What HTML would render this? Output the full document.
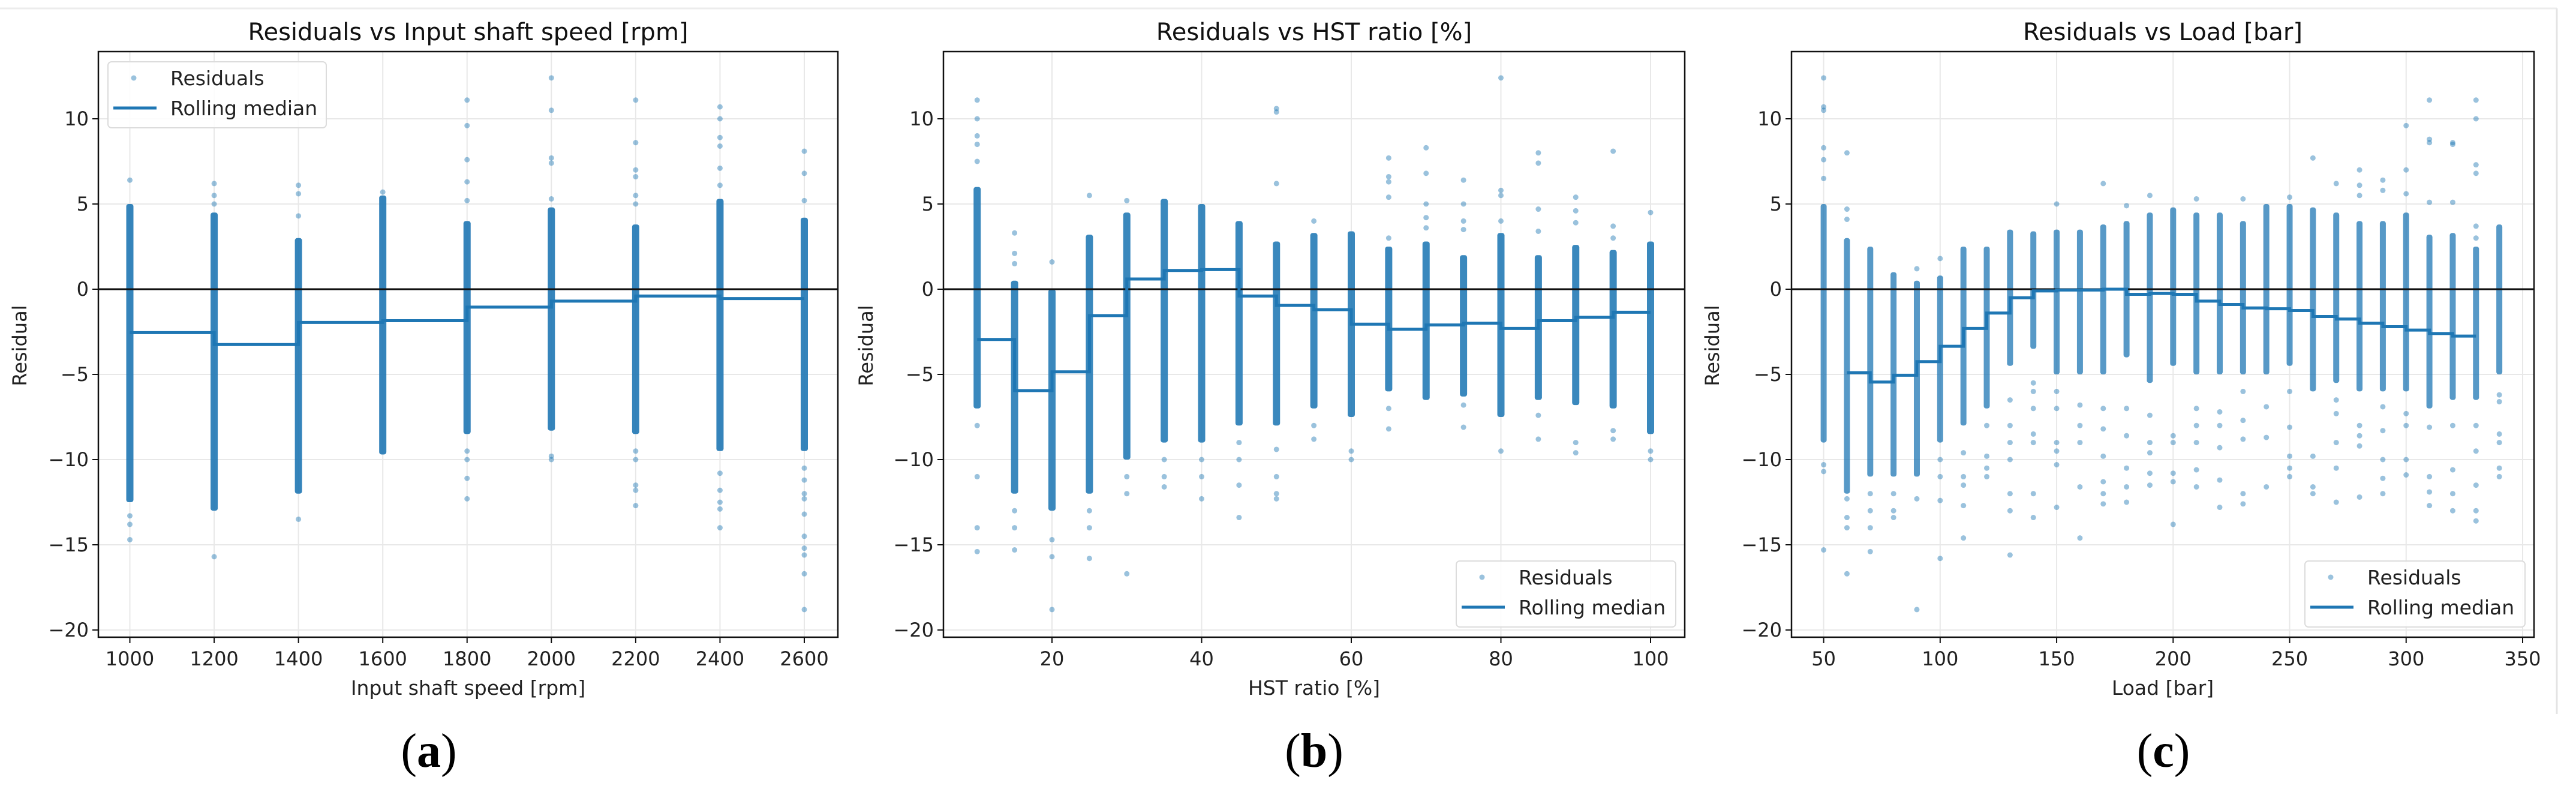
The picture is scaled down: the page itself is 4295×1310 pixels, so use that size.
<!DOCTYPE html>
<html><head><meta charset="utf-8"><style>
html,body{margin:0;padding:0;background:#fff;overflow:hidden;}
svg{display:block;font-family:"DejaVu Sans","Liberation Sans",sans-serif;}
</style></head><body>
<svg id="fig" width="4295" height="1310" viewBox="0 0 4295 1310" xmlns="http://www.w3.org/2000/svg">
<line x1="0" y1="14" x2="4263" y2="14" stroke="#ececec" stroke-width="3"/>
<line x1="4263" y1="14" x2="4263" y2="1190" stroke="#e4e4e4" stroke-width="3"/>
</svg>
<script>
// ---------- Panel (a) data ----------
const aCats = [1000,1200,1400,1600,1800,2000,2200,2400,2600];
const aLo = [-12.5,-13,-12,-9.7,-8.5,-8.3,-8.5,-9.5,-9.5];
const aHi = [5,4.5,3,5.5,4,4.8,3.8,5.3,4.2];
const aOut = [[6.4,-13.3,-13.8,-14.7],[6.2,5.5,5.0,-15.7],[6.1,5.6,4.3,-13.5],[5.7],[11.1,9.6,7.6,6.3,5.2,-9.5,-10,-11.1,-12.3],[12.4,10.5,7.7,7.4,5.3,-9.8,-10],[11.1,8.6,7.0,6.6,5.5,5.0,-9.5,-10,-11.5,-11.8,-12.7],[10.7,10.0,8.9,8.4,7.1,6.1,-10.8,-11.8,-12.5,-12.9,-14],[8.1,6.8,5.2,-10.5,-11.2,-12,-12.3,-13.2,-14.5,-15.2,-15.6,-16.7,-18.8]];
const aMed = [-2.55,-3.25,-1.95,-1.85,-1.05,-0.7,-0.4,-0.55];
const aXTicks = [1000,1200,1400,1600,1800,2000,2200,2400,2600];

// ---------- Panel (b) data ----------
const bCats = [10,15,20,25,30,35,40,45,50,55,60,65,70,75,80,85,90,95,100];
const bLo = [-7,-12,-13,-12,-10,-9,-9,-8,-8,-7,-7.5,-6,-6.5,-6.3,-7.5,-6.5,-6.8,-7,-8.5];
const bHi = [6,0.5,0,3.2,4.5,5.3,5,4,2.8,3.3,3.4,2.5,2.8,2,3.3,2,2.6,2.3,2.8];
const bOut = [[11.1,10,9,8.5,7.5,-8,-11,-14,-15.4],[3.3,2.1,1.5,-13,-14,-15.3],[1.6,-14.7,-15.7,-18.8],[5.5,-13,-14,-15.8],[5.2,-11,-12,-16.7],[-10,-11,-11.6],[-10,-11,-12.3],[-9,-10,-11.5,-13.4],[10.6,10.4,6.2,-9.4,-11,-12,-12.3],[4,-8,-8.8],[-9.5,-10],[7.7,6.6,6.3,5.4,3,-7,-8.2],[8.3,6.8,5,4.2,3.6],[6.4,5,4,3.5,-6.8,-8.1],[12.4,5.8,5.5,4,-9.5],[8,7.4,4.7,3.4,-7.4,-8.8],[5.4,4.6,3.9,-9,-9.6],[8.1,3.7,3,-8.3,-8.8],[4.5,-9.5,-10]];
const bMed = [-2.95,-5.95,-4.85,-1.55,0.6,1.1,1.15,-0.4,-0.95,-1.2,-2.05,-2.35,-2.1,-2.0,-2.3,-1.85,-1.65,-1.35];
const bXTicks = [20,40,60,80,100];

// ---------- Panel (c) data ----------
const cCats = [50,60,70,80,90,100,110,120,130,140,150,160,170,180,190,200,210,220,230,240,250,260,270,280,290,300,310,320,330,340];
const cLo = [-9,-12,-11,-11,-11,-9,-8,-7,-4.5,-3.5,-5,-5,-5,-4,-5.5,-4.5,-5,-5,-5,-5,-4.5,-6,-5.5,-6,-6,-6,-7,-6.5,-6.5,-5];
const cHi = [5,3,2.5,1,0.5,0.8,2.5,2.5,3.5,3.4,3.5,3.5,3.8,4,4.5,4.8,4.5,4.5,4,5,5,4.8,4.5,4,4,4.5,3.2,3.3,2.5,3.8];
const cOut = [[12.4,10.7,10.5,8.3,7.6,6.5,-10.3,-10.7,-15.3],[8,4.7,4.1,-12.3,-13.4,-14,-16.7],[-12,-13,-14,-15.4],[-12,-13,-13.4],[1.2,-12.3,-18.8],[1.8,-10,-11,-12.4,-15.8],[-9.6,-11,-11.5,-12.7,-14.6],[-8,-9.8,-10.5,-11],[-6.5,-8,-9,-10,-12,-13,-15.6],[-5.5,-6,-7,-8.5,-9,-12,-13.4],[5,-6,-7,-9,-9.5,-10.3,-12.8],[-6.8,-8,-9,-11.6,-14.6],[6.2,-7,-8.2,-9.8,-11.3,-12,-12.6],[4.9,-7,-8.6,-10.5,-11.6,-12.5],[5.5,-7.4,-9,-9.6,-10.8,-11.5],[-8.6,-9,-10.8,-11.3,-13.8],[5.3,-7,-8,-9,-10.6,-11.6],[-7.2,-8,-9.3,-11.2,-12.8],[5.3,-6,-7.7,-8.8,-12,-12.6],[-6.9,-8.7,-11.6],[5.4,-6,-8.1,-9.8,-10.5,-11],[7.7,-9.8,-11.6,-12],[6.2,-6.5,-7.3,-9,-10.5,-12.5],[7,6.1,5.5,-8,-8.6,-9.2,-12.2],[6.4,5.8,-6.9,-8.3,-10,-11.1,-12],[9.6,7,5.6,-7.3,-8,-10,-10.9],[11.1,8.8,8.6,5.1,-8.1,-11,-11.9,-12.7],[8.6,8.5,5.1,-8,-10.6,-12,-13],[11.1,10,7.3,6.8,3.7,3,-8,-9.5,-11.5,-13,-13.6],[-6.2,-6.6,-8.5,-9,-10.5,-11]];
const cMed = [-4.9,-5.45,-5.05,-4.25,-3.35,-2.3,-1.4,-0.5,-0.1,-0.05,-0.05,0,-0.3,-0.25,-0.3,-0.7,-0.9,-1.1,-1.15,-1.25,-1.6,-1.75,-2.0,-2.2,-2.4,-2.6,-2.75];
const cMedStart = 1; // median starts at the second category
const cXTicks = [50,100,150,200,250,300,350];

const yTicks = [10,5,0,-5,-10,-15,-20];

const NS = 'http://www.w3.org/2000/svg';
const svg = document.getElementById('fig');
const BLUE = '#1f77b4';
function mk(tag, attrs, parent){ const e=document.createElementNS(NS,tag); for(const k in attrs) e.setAttribute(k,attrs[k]); (parent||svg).appendChild(e); return e; }

function panel(cfg){
  const g = mk('g',{});
  
  
  const L=cfg.left,R=cfg.right,T=86,B=1062;
  const X = v => cfg.x0px + (v-cfg.x0)*(cfg.x1px-cfg.x0px)/(cfg.x1-cfg.x0);
  const Y = v => 482 - v*28.4;
  cfg.xTicks.forEach(t=>{ const l=mk('line',{x1:X(t),x2:X(t),y1:T,y2:B,stroke:'#e8e8e8','stroke-width':2},g);
      });
  yTicks.forEach(t=>{ const l=mk('line',{x1:L,x2:R,y1:Y(t),y2:Y(t),stroke:'#e8e8e8','stroke-width':2},g);
      });
  cfg.cats.forEach((c,i)=>{
    const r=mk('rect',{x:X(c)-cfg.bw/2,y:Y(cfg.hi[i]),width:cfg.bw,height:Y(cfg.lo[i])-Y(cfg.hi[i]),fill:BLUE,'fill-opacity':cfg.bop,rx:4},g);
    
    
    cfg.out[i].forEach(v=>{
      const p=mk('circle',{cx:X(c),cy:Y(v),r:4.5,fill:BLUE,'fill-opacity':0.45},g);
      
      
    });
  });
  const z=mk('line',{x1:L,x2:R,y1:Y(0),y2:Y(0),stroke:'#111','stroke-width':3},g);
   
  let d='';
  const s=cfg.medStart||0;
  cfg.med.forEach((m,i)=>{ const xa=X(cfg.cats[s+i]), xb=X(cfg.cats[s+i+1]);
    d += (i===0?'M':'L')+xa+','+Y(m)+' L'+xb+','+Y(m)+' '; });
  const ml=mk('path',{d:d,fill:'none',stroke:BLUE,'stroke-width':5},g);
   
  const sp=mk('rect',{x:L,y:T,width:R-L,height:B-T,fill:'none',stroke:'#111','stroke-width':2.5},g);
   
  cfg.xTicks.forEach(t=>{
    mk('line',{x1:X(t),x2:X(t),y1:B,y2:B+10,stroke:'#111','stroke-width':2},g);
    const tx=mk('text',{x:X(t),y:1109,'font-size':32,'text-anchor':'middle',fill:'#222'},g);
    tx.textContent=t;
     
  });
  yTicks.forEach(t=>{
    mk('line',{x1:L-10,x2:L,y1:Y(t),y2:Y(t),stroke:'#111','stroke-width':2},g);
    const tx=mk('text',{x:L-16,y:Y(t)+11,'font-size':32,'text-anchor':'end',fill:'#222'},g);
    tx.textContent=(t<0?'\u2212'+(-t):t);
     
  });
  const ti=mk('text',{x:(L+R)/2,y:67,'font-size':40,'text-anchor':'middle',fill:'#111'},g);
  ti.textContent=cfg.title;  
  const xl=mk('text',{x:(L+R)/2,y:1158,'font-size':33,'text-anchor':'middle',fill:'#222'},g);
  xl.textContent=cfg.xlabel;  
  const yl=mk('text',{x:0,y:0,'font-size':32,'text-anchor':'middle',fill:'#222',transform:'translate('+(cfg.ylx)+',576) rotate(-90)'},g);
  yl.textContent='Residual';  
  const lg=mk('g',{},g);
   
  mk('rect',{x:cfg.lx,y:cfg.ly,width:cfg.lw,height:110,rx:6,fill:'#fff','fill-opacity':0.85,stroke:'#dcdcdc','stroke-width':2},lg);
  const ld=mk('circle',{cx:cfg.lx+43,cy:cfg.ly+27,r:4.5,fill:BLUE,'fill-opacity':0.45},lg);
   
  const t1=mk('text',{x:cfg.lx+104,y:cfg.ly+39,'font-size':33,fill:'#222'},lg);
  t1.textContent='Residuals';  
  const ll=mk('line',{x1:cfg.lx+9,x2:cfg.lx+81,y1:cfg.ly+77,y2:cfg.ly+77,stroke:BLUE,'stroke-width':5},lg);
   
  const t2=mk('text',{x:cfg.lx+104,y:cfg.ly+89,'font-size':33,fill:'#222'},lg);
  t2.textContent='Rolling median';  
  const cap=mk('text',{x:cfg.capx,y:1278,'font-size':80,'text-anchor':'middle',fill:'#000','font-family':'"Liberation Serif",serif'},svg);
  cap.innerHTML='(<tspan font-weight="bold">'+cfg.cap+'</tspan>)';
   
}

panel({name:'panel-a-speed',left:164,right:1397,x0:1000,x1:2600,x0px:216.5,x1px:1341,cats:aCats,lo:aLo,hi:aHi,out:aOut,med:aMed,xTicks:aXTicks,bw:12,bop:0.9,
  title:'Residuals vs Input shaft speed [rpm]',xlabel:'Input shaft speed [rpm]',ylx:44,lx:180,ly:103,lw:364,capx:715,cap:'a'});
panel({name:'panel-b-hst',left:1573,right:2809,x0:20,x1:100,x0px:1754,x1px:2752,cats:bCats,lo:bLo,hi:bHi,out:bOut,med:bMed,xTicks:bXTicks,bw:12,bop:0.88,
  title:'Residuals vs HST ratio [%]',xlabel:'HST ratio [%]',ylx:1455,lx:2428,ly:935,lw:366,capx:2191,cap:'b'});
panel({name:'panel-c-load',left:2987,right:4225,x0:50,x1:350,x0px:3040.6,x1px:4206,cats:cCats,lo:cLo,hi:cHi,out:cOut,med:cMed,medStart:cMedStart,xTicks:cXTicks,bw:10,bop:0.75,
  title:'Residuals vs Load [bar]',xlabel:'Load [bar]',ylx:2866,lx:3843,ly:935,lw:367,capx:3607,cap:'c'});
</script>
</body></html>
